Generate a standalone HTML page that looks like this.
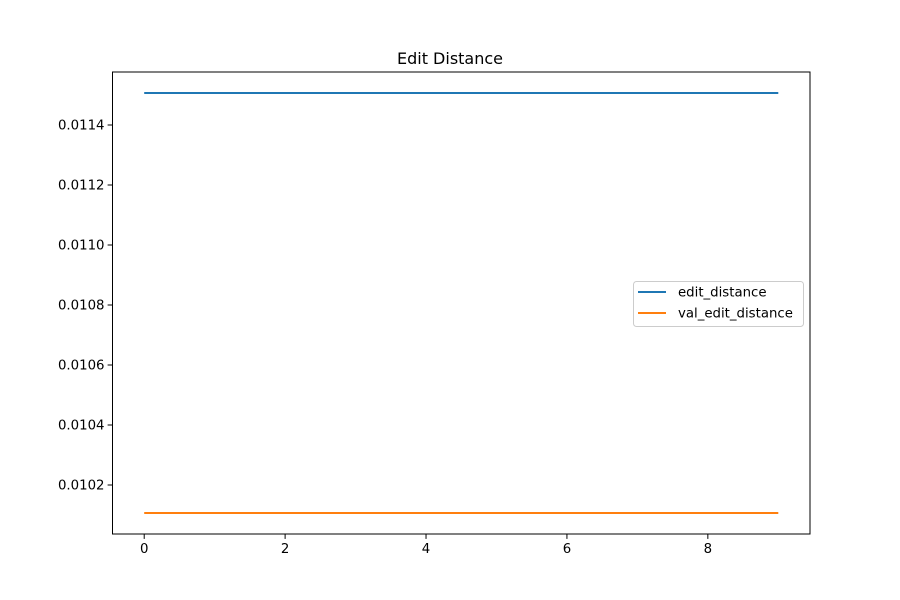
<!DOCTYPE html>
<html><head><meta charset="utf-8"><style>
body{margin:0;background:#fff}
svg{display:block;font-family:"DejaVu Sans","Liberation Sans",sans-serif}
</style></head><body>
<svg id="c" width="900" height="600"></svg>
<script>
const epochs=[0,1,2,3,4,5,6,7,8,9];
const editDistance=[0.0115067,0.0115067,0.0115067,0.0115067,0.0115067,0.0115067,0.0115067,0.0115067,0.0115067,0.0115067];
const valEditDistance=[0.0101067,0.0101067,0.0101067,0.0101067,0.0101067,0.0101067,0.0101067,0.0101067,0.0101067,0.0101067];
const xTicks=[0,2,4,6,8];
const yTicks=[0.0102,0.0104,0.0106,0.0108,0.0110,0.0112,0.0114];
const yTickLabels=["0.0102","0.0104","0.0106","0.0108","0.0110","0.0112","0.0114"];

const L=112.5,R=810,T=72,B=534;
const xMin=-0.45,xMax=9.45,yMin=0.0100367,yMax=0.0115767;
const X=v=>L+(v-xMin)/(xMax-xMin)*(R-L);
const Y=v=>B-(v-yMin)/(yMax-yMin)*(B-T);
const NS="http://www.w3.org/2000/svg";
const svg=document.getElementById('c');
function mk(t,a,p){const e=document.createElementNS(NS,t);for(const k in a)e.setAttribute(k,a[k]);(p||svg).appendChild(e);return e;}

let t=mk('text',{x:450,y:64,'text-anchor':'middle','font-size':16,fill:'#000'});t.textContent='Edit Distance';



xTicks.forEach(v=>{
  const l=mk('line',{x1:X(v),x2:X(v),y1:B,y2:B+4.9,stroke:'#000','stroke-width':1});
  
  
  const s=mk('text',{x:X(v),y:B+19,'text-anchor':'middle','font-size':13.3});s.textContent=v;
  
  
});
yTicks.forEach((v,i)=>{
  const l=mk('line',{x1:L-4.9,x2:L,y1:Y(v),y2:Y(v),stroke:'#000','stroke-width':1});
  
  
  const s=mk('text',{x:L-8,y:Y(v)+4.5,'text-anchor':'end','font-size':13.3});s.textContent=yTickLabels[i];
  
  
});

function series(vals,color,name){
  const p=mk('polyline',{points:epochs.map((e,i)=>X(e)+','+Y(vals[i])).join(' '),fill:'none',stroke:color,'stroke-width':2});
  
  
}
series(editDistance,'#1f77b4','edit-distance-line');
series(valEditDistance,'#ff7f0e','val-edit-distance-line');

const f=mk('rect',{x:L,y:T,width:R-L,height:B-T,fill:'none',stroke:'#000','stroke-width':1});



const g=mk('g',{});


mk('rect',{x:633.5,y:281.5,width:170,height:45,rx:3,fill:'#fff',stroke:'#ccc','stroke-width':1},g);
[['edit_distance','#1f77b4',292],['val_edit_distance','#ff7f0e',313]].forEach(([n,c,y])=>{
  mk('line',{x1:638,x2:666,y1:y,y2:y,stroke:c,'stroke-width':2},g);
  const s=mk('text',{x:678,y:y+4.5,'font-size':13.3},g);s.textContent=n;
  
  
});
</script>
</body></html>
